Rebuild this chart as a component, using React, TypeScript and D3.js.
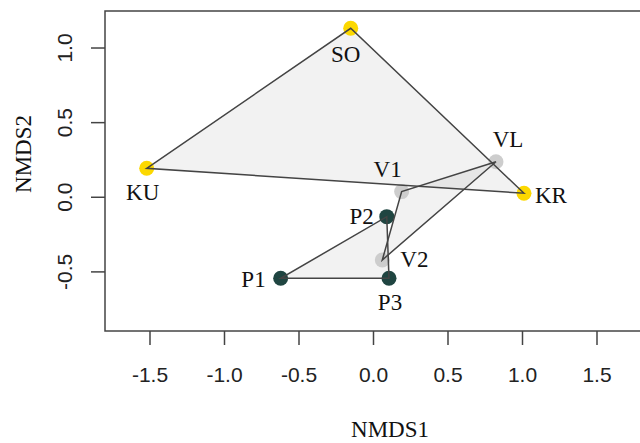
import { useEffect, useRef } from 'react';
import * as d3 from 'd3';

// NMDS site scores
const sites = ['SO', 'KU', 'KR', 'VL', 'V1', 'V2', 'P1', 'P2', 'P3'];
const nmds1 = [-0.153, -1.522, 1.01, 0.822, 0.189, 0.059, -0.623, 0.089, 0.104];
const nmds2 = [1.132, 0.194, 0.027, 0.238, 0.038, -0.42, -0.543, -0.13, -0.543];
const groups = ['S', 'S', 'S', 'V', 'V', 'V', 'P', 'P', 'P'];

const groupColors = { S: '#fcd800', V: '#cdcdcd', P: '#1f4541' };
const xTicks = [-1.5, -1.0, -0.5, 0.0, 0.5, 1.0, 1.5];
const yTicks = [-0.5, 0.0, 0.5, 1.0];

// label placement in px relative to point (dx, dy, anchor)
const labelPos = {
	SO: [-5, 34, 'middle'],
	KU: [-4, 32, 'middle'],
	KR: [11, 10, 'start'],
	VL: [12, -15, 'middle'],
	V1: [-14, -15, 'middle'],
	V2: [18, 7, 'start'],
	P1: [-15, 9, 'end'],
	P2: [-13, 7, 'end'],
	P3: [1, 32, 'middle'],
};

const W = 640;
const H = 443;

// R style tick labels, plain hyphen for minus
const fmt = (v: number) => v.toFixed(1);

export default function App() {
	const svgRef = useRef<SVGSVGElement>(null);

	useEffect(() => {
		const svg = d3.select(svgRef.current);
		svg.selectAll('*').remove();

		const left = 105, top = 11, bottom = 331, right = 641.7;
		const x = d3.scaleLinear().domain([-1.802, 1.8]).range([left, right]);
		const y = d3.scaleLinear().domain([-0.896, 1.248]).range([bottom, top]);

		const pts = sites.map((s, i) => ({ s, g: groups[i], px: x(nmds1[i]), py: y(nmds2[i]) }));

		// hulls
		const hulls = ['S', 'V', 'P'].map(g => d3.polygonHull(pts.filter(p => p.g === g).map(p => [p.px, p.py] as [number, number]))!);
		const line = d3.line().curve(d3.curveLinearClosed);

		svg.append('g')
			.selectAll('path')
			.data(hulls)
			.join('path')
			.attr('d', d => line(d))
			.attr('fill', 'rgb(128,128,128)')
			.attr('fill-opacity', 0.1)
			.attr('stroke', 'none');

		svg.append('g')
			.selectAll('circle')
			.data(pts)
			.join('circle')
			.attr('cx', d => d.px)
			.attr('cy', d => d.py)
			.attr('r', 7.5)
			.attr('fill', d => groupColors[d.g]);

		svg.append('g')
			.selectAll('path')
			.data(hulls)
			.join('path')
			.attr('d', d => line(d))
			.attr('fill', 'none')
			.attr('stroke', '#444')
			.attr('stroke-width', 1.5);

		svg.append('g')
			.style('font-family', '"Liberation Serif", "Times New Roman", serif')
			.style('font-size', '23px')
			.attr('fill', '#111')
			.selectAll('text')
			.data(pts)
			.join('text')
			.attr('x', d => d.px + labelPos[d.s][0])
			.attr('y', d => d.py + labelPos[d.s][1])
			.attr('text-anchor', d => labelPos[d.s][2])
			.text(d => d.s);

		// frame
		svg.append('rect')
			.attr('x', left)
			.attr('y', top)
			.attr('width', right - left)
			.attr('height', bottom - top)
			.attr('fill', 'none')
			.attr('stroke', '#444')
			.attr('stroke-width', 1.5);

		const tickFont = '"Liberation Sans", Arial, sans-serif';

		const xa = svg.append('g');
		xa.selectAll('line')
			.data(xTicks)
			.join('line')
			.attr('x1', d => x(d))
			.attr('x2', d => x(d))
			.attr('y1', bottom)
			.attr('y2', bottom + 14)
			.attr('stroke', '#444')
			.attr('stroke-width', 1.5);
		xa.selectAll('text')
			.data(xTicks)
			.join('text')
			.attr('x', d => x(d))
			.attr('y', 382)
			.attr('text-anchor', 'middle')
			.style('font-family', tickFont)
			.style('font-size', '21px')
			.attr('fill', '#222')
			.text(d => fmt(d));

		const ya = svg.append('g');
		ya.selectAll('line')
			.data(yTicks)
			.join('line')
			.attr('x1', left - 14)
			.attr('x2', left)
			.attr('y1', d => y(d))
			.attr('y2', d => y(d))
			.attr('stroke', '#444')
			.attr('stroke-width', 1.5);
		ya.selectAll('text')
			.data(yTicks)
			.join('text')
			.attr('transform', d => `translate(72,${y(d)}) rotate(-90)`)
			.attr('text-anchor', 'middle')
			.style('font-family', tickFont)
			.style('font-size', '21px')
			.attr('fill', '#222')
			.text(d => fmt(d));

		const titleFont = '"Liberation Serif", "Times New Roman", serif';
		svg.append('text')
			.attr('x', 390)
			.attr('y', 437)
			.attr('text-anchor', 'middle')
			.style('font-family', titleFont)
			.style('font-size', '23px')
			.attr('fill', '#111')
			.text('NMDS1');
		svg.append('text')
			.attr('transform', 'translate(31,154) rotate(-90)')
			.attr('text-anchor', 'middle')
			.style('font-family', titleFont)
			.style('font-size', '23px')
			.attr('fill', '#111')
			.text('NMDS2');
	}, []);

	return <svg ref={svgRef} width={W} height={H} style={{ position: 'absolute', left: 0, top: 0, background: '#fff' }} />;
}
